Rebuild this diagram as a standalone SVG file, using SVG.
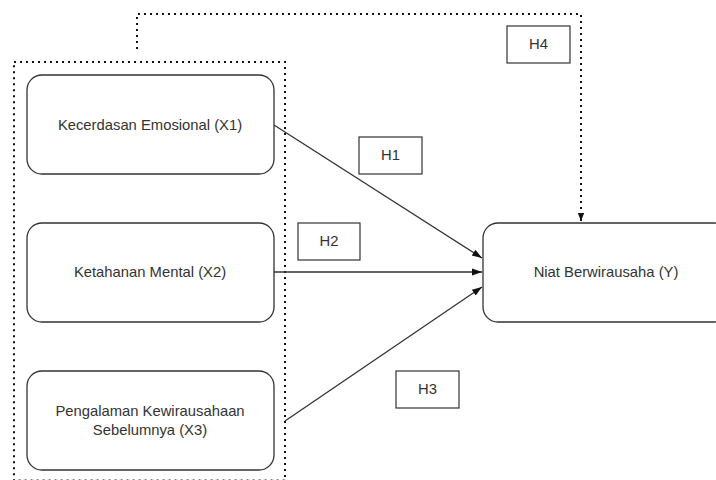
<svg xmlns="http://www.w3.org/2000/svg" width="716" height="480" viewBox="0 0 716 480">
<style>
.node{fill:#fff;stroke:#333;stroke-width:1.3}
.lbl{fill:#fff;stroke:#333;stroke-width:1.2}
.t{font-family:"Liberation Sans",Arial,sans-serif;font-size:14.8px;fill:#333;text-anchor:middle}
.dot{fill:none;stroke:#111;stroke-width:2;stroke-dasharray:2 4}
.edge{fill:none;stroke:#333;stroke-width:1.3}
</style>
<defs>
<marker id="arr" viewBox="0 0 10 10" refX="10" refY="5" markerWidth="10" markerHeight="10" markerUnits="userSpaceOnUse" orient="auto">
<path d="M0,1.5 L10,5 L0,8.5 Z" fill="#111"/>
</marker>
<marker id="arrs" viewBox="0 0 10 10" refX="10" refY="5" markerWidth="8" markerHeight="8" markerUnits="userSpaceOnUse" orient="auto">
<path d="M0,1 L10,5 L0,9 Z" fill="#111"/>
</marker>
</defs>
<rect width="716" height="480" fill="#fff"/>
<g id="group-x">
<rect class="dot" x="14" y="62" width="271" height="418.6"/>
</g>
<g id="connectors">
<path class="dot" d="M137,49 L137,14 L581,14 L581,221" marker-end="url(#arrs)"/>
<path class="edge" d="M274,125 L482,258" marker-end="url(#arr)"/>
<path class="edge" d="M274,272 L482,272" marker-end="url(#arr)"/>
<path class="edge" d="M285,421 L482,287" marker-end="url(#arr)"/>
</g>
<g id="x1">
<rect class="node" x="27" y="75" width="247" height="99" rx="15"/>
<text class="t" x="150" y="130">Kecerdasan Emosional (X1)</text>
</g>
<g id="x2">
<rect class="node" x="27" y="223" width="247" height="99" rx="15"/>
<text class="t" x="150" y="277">Ketahanan Mental (X2)</text>
</g>
<g id="x3">
<rect class="node" x="27" y="371" width="247" height="99" rx="15"/>
<text class="t" x="150" y="416">Pengalaman Kewirausahaan</text>
<text class="t" x="150" y="435">Sebelumnya (X3)</text>
</g>
<g id="y">
<rect class="node" x="483" y="223" width="247" height="99" rx="15"/>
<text class="t" x="606" y="277">Niat Berwirausaha (Y)</text>
</g>
<g id="h1">
<rect class="lbl" x="359" y="137" width="63" height="37"/>
<text class="t" x="390.5" y="160">H1</text>
</g>
<g id="h2">
<rect class="lbl" x="298" y="223" width="62" height="37"/>
<text class="t" x="329" y="246">H2</text>
</g>
<g id="h3">
<rect class="lbl" x="396" y="371" width="63" height="37"/>
<text class="t" x="427.5" y="394">H3</text>
</g>
<g id="h4">
<rect class="lbl" x="507" y="26" width="63" height="37"/>
<text class="t" x="538.5" y="49">H4</text>
</g>
</svg>
